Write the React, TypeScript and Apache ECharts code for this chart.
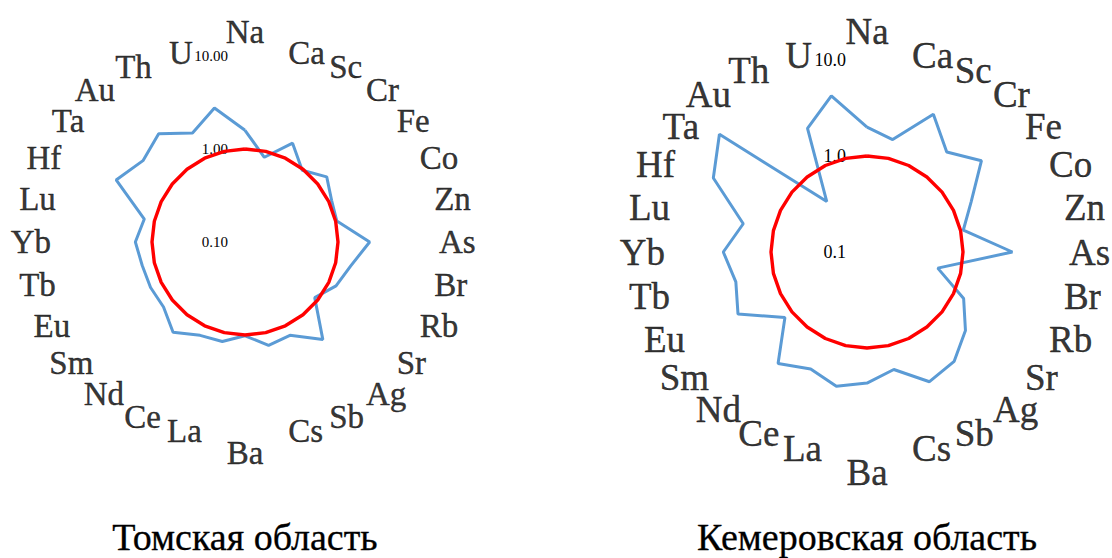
import React, { useEffect, useRef } from "react";
import * as echarts from "echarts";

const ELEMENTS = [
  "Na", "Ca", "Sc", "Cr", "Fe", "Co", "Zn", "As", "Br", "Rb", "Sr", "Ag", "Sb", "Cs",
  "Ba", "La", "Ce", "Nd", "Sm", "Eu", "Tb", "Yb", "Lu", "Hf", "Ta", "Au", "Th", "U",
];

const TOMSK = [
  1.59, 0.86, 1.51, 0.97, 1.33, 1.08, 1.03, 2.19, 1.46, 1.22, 0.91, 2.2, 1.3, 1.38,
  1.02, 1.25, 1.3, 1.74, 1.32, 1.34, 1.36, 1.51, 1.29, 3.45, 2.53, 3.08, 2.0, 3.0,
];

const KEMEROVO = [
  2.0, 1.59, 3.92, 2.15, 3.35, 1.6, 1.07, 3.27, 0.57, 1.31, 2.05, 2.86, 3.16, 1.8,
  2.32, 2.72, 2.25, 3.06, 1.24, 3.1, 2.52, 3.14, 2.1, 5.98, 9.25, 0.47, 2.68, 4.67,
];

const REFERENCE = [
  1, 1, 1, 1, 1, 1, 1, 1, 1, 1, 1, 1, 1, 1,
  1, 1, 1, 1, 1, 1, 1, 1, 1, 1, 1, 1, 1, 1,
];

const TITLES = ["Томская область", "Кемеровская область"];
const LABEL_DECIMALS = [2, 1];
const AXIS_MIN = 0.1;
const AXIS_MAX = 10;

const FONT = "Liberation Serif";

// [radius value, angle position] pairs, returning to the first element to close the loop
function closed(values: number[]) {
  const pts = values.map((v, i) => [v, i]);
  pts.push([values[0], values.length]);
  return pts;
}

export default function App() {
  const ref = useRef<HTMLDivElement>(null);

  useEffect(() => {
    if (!ref.current) return;
    const chart = echarts.init(ref.current, undefined, { renderer: "svg" });

    const polars = [
      { center: [245, 242], radius: 186, labelSize: 33, tickSize: 15, tickMargin: 17, labelMargin: 8, extra: 9 },
      { center: [867, 252], radius: 192, labelSize: 37, tickSize: 18, tickMargin: 21, labelMargin: 10, extra: 10 },
    ];
    const seriesData = [TOMSK, KEMEROVO];
    const n = ELEMENTS.length;

    const labelSeries = polars.map((p, pi) => ({
      type: "scatter",
      coordinateSystem: "polar",
      polarIndex: pi,
      symbolSize: 0,
      silent: true,
      clip: false,
      z: 5,
      data: ELEMENTS.map((name, k) => {
        const deg = (k * 360) / n;
        const a = (deg * Math.PI) / 180;
        const s = Math.sin(a);
        const c = Math.cos(a);
        const isTop = k === 0;
        const isBottom = k * 2 === n;
        let dx = p.labelMargin * s;
        const dy = -p.labelMargin * c;
        if (deg > 285 && deg < 360) dx -= p.extra;
        return {
          name,
          value: [AXIS_MAX, k],
          label: {
            show: true,
            formatter: "{b}",
            position: [dx, dy],
            align: isTop || isBottom ? "center" : s > 0 ? "left" : "right",
            verticalAlign: isTop ? "bottom" : isBottom ? "top" : "middle",
            fontFamily: FONT,
            fontSize: p.labelSize,
            color: "#000",
            textBorderColor: "#000",
            textBorderWidth: 0.4,
          },
        };
      }),
    }));

    const option: any = {
      animation: false,
      backgroundColor: "#ffffff",
      title: TITLES.map((t, i) => ({
        text: t,
        left: polars[i].center[0],
        top: 518,
        textAlign: "center",
        padding: 0,
        textStyle: {
          fontFamily: FONT,
          fontSize: 38,
          lineHeight: 38,
          fontWeight: "normal",
          color: "#000",
          textBorderColor: "#000",
          textBorderWidth: 0.3,
        },
      })),
      polar: polars.map((p) => ({ center: p.center, radius: p.radius })),
      angleAxis: polars.map((p, i) => ({
        polarIndex: i,
        type: "value",
        min: 0,
        max: n,
        startAngle: 90,
        clockwise: true,
        axisLine: { show: false },
        axisTick: { show: false },
        splitLine: { show: false },
        splitArea: { show: false },
        axisLabel: { show: false },
      })),
      radiusAxis: polars.map((p, i) => ({
        polarIndex: i,
        type: "log",
        logBase: 10,
        min: AXIS_MIN,
        max: AXIS_MAX,
        axisLine: { show: false },
        axisTick: { show: false },
        splitLine: { show: false },
        axisLabel: {
          margin: p.tickMargin,
          fontFamily: FONT,
          fontSize: p.tickSize,
          color: "#000",
          formatter: (v: number) => Number(v).toFixed(LABEL_DECIMALS[i]),
        },
      })),
      series: [
        ...seriesData.map((d, i) => ({
          type: "line",
          coordinateSystem: "polar",
          polarIndex: i,
          data: closed(d),
          symbol: "none",
          silent: true,
          clip: false,
          lineStyle: { color: "#5B9BD5", width: 3 },
          itemStyle: { color: "#5B9BD5" },
          z: 2,
        })),
        ...seriesData.map((_, i) => ({
          type: "line",
          coordinateSystem: "polar",
          polarIndex: i,
          data: closed(REFERENCE),
          symbol: "none",
          silent: true,
          clip: false,
          lineStyle: { color: "#FF0000", width: 3.4 },
          itemStyle: { color: "#FF0000" },
          z: 3,
        })),
        ...labelSeries,
      ],
    };

    chart.setOption(option);
    return () => chart.dispose();
  }, []);

  return (
    <div
      ref={ref}
      style={{ position: "fixed", left: 0, top: 0, width: 1112, height: 558, background: "#fff" }}
    />
  );
}
